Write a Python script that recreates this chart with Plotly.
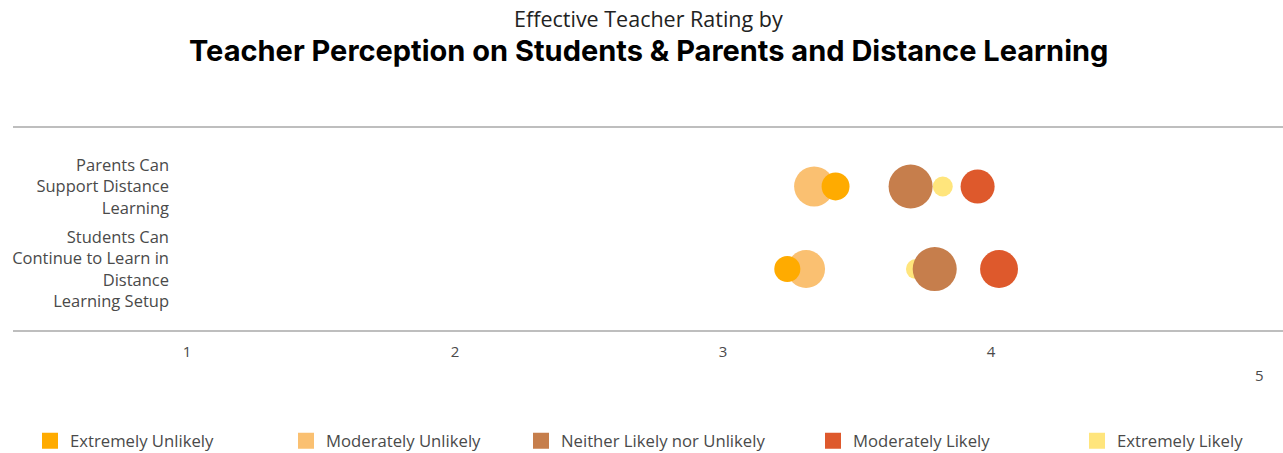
import plotly.graph_objects as go

categories = ["Parents Can<br>Support Distance<br>Learning",
              "Students Can<br>Continue to Learn in<br>Distance<br>Learning Setup"]
series_names = ["Extremely Unlikely", "Moderately Unlikely", "Neither Likely nor Unlikely",
                "Moderately Likely", "Extremely Likely"]
# mean effective teacher rating per category, per series
ratings = {
    "Extremely Unlikely": [3.42, 3.24],
    "Moderately Unlikely": [3.34, 3.31],
    "Neither Likely nor Unlikely": [3.70, 3.79],
    "Moderately Likely": [3.95, 4.03],
    "Extremely Likely": [3.82, 3.72],
}
# respondent counts (bubble size)
counts = {
    "Extremely Unlikely": [78, 68],
    "Moderately Unlikely": [160, 144],
    "Neither Likely nor Unlikely": [194, 194],
    "Moderately Likely": [116, 144],
    "Extremely Likely": [40, 40],
}
tick_vals = [1, 2, 3, 4, 5]
tick_labels = ["1", "2", "3", "4", "5"]

colors = {
    "Extremely Unlikely": "#FFAB00",
    "Moderately Unlikely": "#FAC071",
    "Neither Likely nor Unlikely": "#C67E4C",
    "Moderately Likely": "#DE592C",
    "Extremely Likely": "#FFE57C",
}
draw_order = ["Extremely Likely", "Moderately Unlikely", "Extremely Unlikely",
              "Neither Likely nor Unlikely", "Moderately Likely"]

FONT = "Open Sans"
TXT = "#4a4a4a"
W, H = 1283, 453
L, R, T, B = 187, 24, 127, 122
pw, ph = W - L - R, H - T - B

fig = go.Figure()
for name in draw_order:
    fig.add_trace(go.Scatter(
        x=ratings[name], y=categories, mode="markers", name=name,
        marker=dict(size=counts[name], sizemode="area", sizeref=0.2,
                    color=colors[name], line=dict(width=0), opacity=1),
        showlegend=False, hoverinfo="x+y+name"))

legend_text_x = [70, 326, 561, 853, 1117]
legend_names = ["legend", "legend2", "legend3", "legend4", "legend5"]
layout_legends = {}
for i, name in enumerate(series_names):
    fig.add_trace(go.Scatter(
        x=[None], y=[None], mode="markers", name=name,
        marker=dict(symbol="square", size=17, color=colors[name]),
        legend=legend_names[i], showlegend=True))
    layout_legends[legend_names[i]] = dict(
        x=(legend_text_x[i] - 40 - L) / pw, xanchor="left",
        y=-(441 - (H - B)) / ph, yanchor="middle",
        orientation="h", font=dict(family=FONT, size=16.7, color=TXT),
        bgcolor="rgba(0,0,0,0)")

fig.update_layout(
    width=W, height=H,
    margin=dict(l=L, r=R, t=T, b=B, autoexpand=False),
    paper_bgcolor="white", plot_bgcolor="white",
    font=dict(family=FONT, color=TXT),
    xaxis=dict(range=[1, 5], tickvals=tick_vals[:-1], ticktext=tick_labels[:-1],
               showgrid=False, zeroline=False, showline=False,
               tickfont=dict(size=15, color=TXT), ticks="",
               ticklabelstandoff=10),
    yaxis=dict(categoryorder="array", categoryarray=categories,
               range=[1.75, -0.72], showgrid=False, zeroline=False, showline=False,
               tickfont=dict(size=16.5, color=TXT), ticks="",
               ticklabelstandoff=17),
    shapes=[
        dict(type="line", xref="paper", yref="paper", x0=(13 - L) / pw, x1=(W - L) / pw,
             y0=1, y1=1, line=dict(color="#A8A8A8", width=1.5)),
        dict(type="line", xref="paper", yref="paper", x0=(13 - L) / pw, x1=(W - L) / pw,
             y0=0, y1=0, line=dict(color="#A8A8A8", width=1.5)),
    ],
    annotations=[
        dict(text="Effective Teacher Rating by", xref="paper", yref="paper",
             x=(648 - L) / pw, y=1 + (T - 18) / ph, xanchor="center", yanchor="middle",
             showarrow=False, font=dict(family=FONT, size=21.5, color="#222")),
        dict(text="<b>Teacher Perception on Students &amp; Parents and Distance Learning</b>",
             xref="paper", yref="paper",
             x=(648 - L) / pw, y=1 + (T - 50) / ph, xanchor="center", yanchor="middle",
             showarrow=False, font=dict(family="Inter", size=29, color="#000", weight=900)),
        dict(text=tick_labels[-1], xref="x", yref="paper", x=tick_vals[-1],
             y=-(375 - (H - B)) / ph, xanchor="center", yanchor="middle",
             showarrow=False, font=dict(family=FONT, size=15, color=TXT)),
    ],
    **layout_legends,
)

fig.write_html("out.html")
